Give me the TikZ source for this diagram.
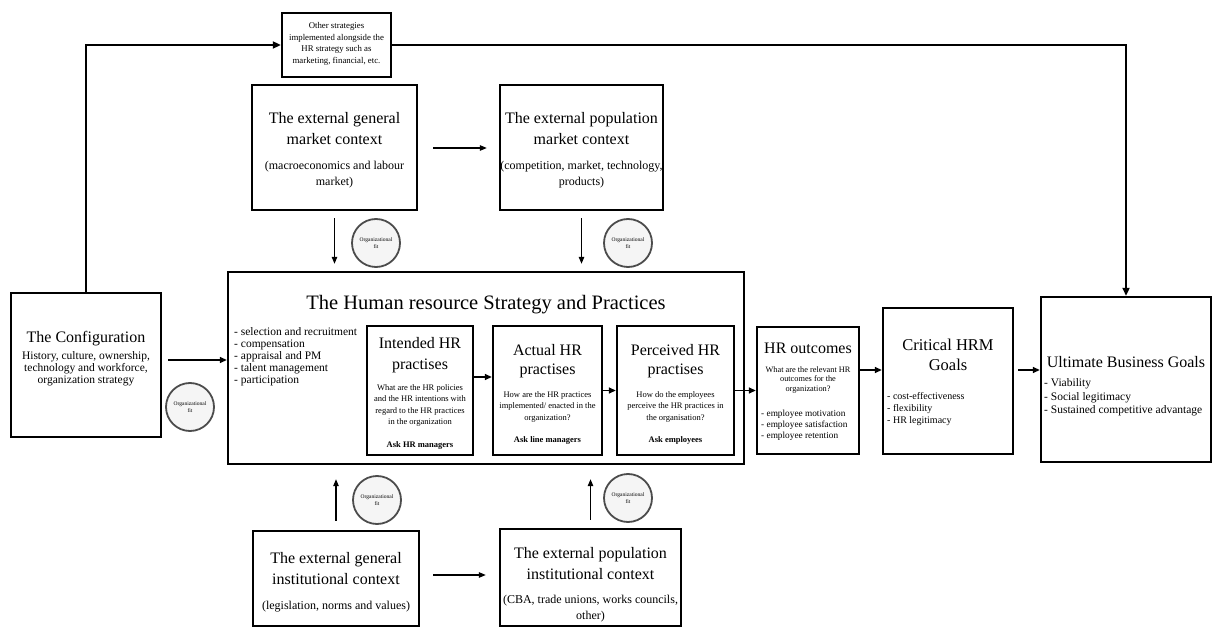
\documentclass[tikz,border=0pt]{standalone}
\usepackage{fontspec}
\setmainfont{Liberation Serif}
\usetikzlibrary{arrows.meta}
\newcommand{\fsz}[2]{\fontsize{#1}{#2}\selectfont}

\begin{document}
\begin{tikzpicture}[x=1pt,y=-1pt,
  box/.style={draw, line width=2.4pt, rectangle, inner sep=0pt},
  txt/.style={inner sep=0pt, align=center},
  ltxt/.style={inner sep=0pt, align=left, anchor=west},
  fitc/.style={circle, draw=black!70, line width=1.8pt, fill=black!4,
    minimum size=48pt, inner sep=0pt, align=center, font=\fsz{5.5}{7}},
  link/.style={line width=2pt, -{Triangle[length=8pt,width=7pt]}},
  arr/.style={line width=1.5pt, -{Triangle[length=7pt,width=6pt]}},
  thinarr/.style={line width=1.2pt, -{Triangle[length=7pt,width=5.5pt]}},
]
\useasboundingbox (0,0) rectangle (1213,628);

% ---- boxes ----
\node[box, minimum width=109pt, minimum height=64pt]  (other)     at (336.5,45)  {};
\node[box, minimum width=165pt, minimum height=125pt] (genmkt)    at (334.5,147.5) {};
\node[box, minimum width=163pt, minimum height=125pt] (popmkt)    at (581.5,147.5) {};
\node[box, minimum width=150pt, minimum height=144pt] (config)    at (86,365)   {};
\node[box, minimum width=516pt, minimum height=192pt] (hr)        at (486,368)  {};
\node[box, minimum width=106pt, minimum height=129pt] (intended)  at (420,390.5) {};
\node[box, minimum width=109pt, minimum height=129pt] (actual)    at (547.5,390.5) {};
\node[box, minimum width=117pt, minimum height=129pt] (perceived) at (675.5,390.5) {};
\node[box, minimum width=102pt, minimum height=127pt] (outcomes)  at (808,390.5) {};
\node[box, minimum width=130pt, minimum height=146pt] (critical)  at (948,381)  {};
\node[box, minimum width=170pt, minimum height=165pt] (ultimate)  at (1126,379.5) {};
\node[box, minimum width=166pt, minimum height=95pt]  (geninst)   at (336,578.5) {};
\node[box, minimum width=181pt, minimum height=97pt]  (popinst)   at (590.5,577.5) {};

% ---- organisational fit circles ----
\node[fitc] (fit1) at (376,243) {Organizational\\fit};
\node[fitc] (fit2) at (628,243) {Organizational\\fit};
\node[fitc] (fit3) at (190,407) {Organizational\\fit};
\node[fitc] (fit4) at (377,500) {Organizational\\fit};
\node[fitc] (fit5) at (628,498) {Organizational\\fit};

% ---- texts ----
\node[txt, font=\fsz{8.8}{11.5}] (t-other) at (336.5,44)
  {Other strategies\\implemented alongside the\\HR strategy such as\\marketing, financial, etc.};

\node[txt, font=\fsz{16}{21}] (t-genmkt) at (334.5,128.5) {The external general\\market context};
\node[txt, font=\fsz{12}{15.5}] (s-genmkt) at (334.5,174.5) {(macroeconomics and labour\\market)};
\node[txt, font=\fsz{16}{21}] (t-popmkt) at (581.5,128.5) {The external population\\market context};
\node[txt, font=\fsz{12}{15.5}] (s-popmkt) at (581.5,174.5) {(competition, market, technology,\\products)};

\node[txt, font=\fsz{16}{20}] (t-config) at (86,339) {The Configuration};
\node[txt, font=\fsz{11.5}{12}] (s-config) at (86,369)
  {History, culture, ownership,\\technology and workforce,\\organization strategy};

\node[txt, font=\fsz{20.5}{24}] (t-hr) at (486,305) {The Human resource Strategy and Practices};
\node[ltxt, font=\fsz{11.5}{12}] (l-hr) at (234,356.5)
  {- selection and recruitment\\- compensation\\- appraisal and PM\\- talent management\\- participation};

\node[txt, font=\fsz{16}{20.5}] (t-int) at (420,355) {Intended HR\\practises};
\node[txt, font=\fsz{8.5}{11.5}] (s-int) at (420,405.5)
  {What are the HR policies\\and the HR intentions with\\regard to the HR practices\\in the organization};
\node[txt, font=\fsz{8.5}{10}\bfseries] (a-int) at (420,445) {Ask HR managers};

\node[txt, font=\fsz{16}{19.5}] (t-act) at (547.5,361) {Actual HR\\practises};
\node[txt, font=\fsz{8.5}{11.5}] (s-act) at (547.5,406.5)
  {How are the HR practices\\implemented/ enacted in the\\organization?};
\node[txt, font=\fsz{8.5}{10}\bfseries] (a-act) at (547.5,440) {Ask line managers};

\node[txt, font=\fsz{16}{19.5}] (t-per) at (675.5,361) {Perceived HR\\practises};
\node[txt, font=\fsz{8.5}{11.5}] (s-per) at (675.5,406.5)
  {How do the employees\\perceive the HR practices in\\the organisation?};
\node[txt, font=\fsz{8.5}{10}\bfseries] (a-per) at (675.5,440) {Ask employees};

\node[txt, font=\fsz{16}{20}] (t-out) at (808,348) {HR outcomes};
\node[txt, font=\fsz{8.3}{9.2}] (s-out) at (808,380)
  {What are the relevant HR\\outcomes for the\\organization?};
\node[ltxt, font=\fsz{9.3}{11}] (l-out) at (761,425)
  {- employee motivation\\- employee satisfaction\\- employee retention};

\node[txt, font=\fsz{16.5}{20.5}] (t-crit) at (948,355) {Critical HRM\\Goals};
\node[ltxt, font=\fsz{10}{12}] (l-crit) at (887,409)
  {- cost-effectiveness\\- flexibility\\- HR legitimacy};

\node[txt, font=\fsz{16}{20}] (t-ult) at (1126,362) {Ultimate Business Goals};
\node[ltxt, font=\fsz{11.5}{13.5}] (l-ult) at (1044,397.5)
  {- Viability\\- Social legitimacy\\- Sustained competitive advantage};

\node[txt, font=\fsz{16}{21}] (t-geninst) at (336,568.5) {The external general\\institutional context};
\node[txt, font=\fsz{12}{15.5}] (s-geninst) at (336,607) {(legislation, norms and values)};
\node[txt, font=\fsz{16}{21}] (t-popinst) at (590.5,563.5) {The external population\\institutional context};
\node[txt, font=\fsz{12}{16}] (s-popinst) at (590.5,609) {(CBA, trade unions, works councils,\\other)};

% ---- connectors ----
\draw[link] (config.north) |- (other.west);
\draw[link] (other.east) -| (ultimate.north);
\draw[arr, shorten <=6pt] ([yshift=5pt]config.east) -- ([yshift=5pt]config.east -| hr.west);

\draw[thinarr, shorten <=15pt, shorten >=12pt] (genmkt.east |- 0,148) -- (popmkt.west |- 0,148);
\draw[thinarr, shorten <=13pt, shorten >=13pt] (geninst.east |- 0,575) -- (popinst.west |- 0,575);

\draw[thinarr, shorten <=7pt, shorten >=7pt] (genmkt.south) -- (genmkt.south |- hr.north);
\draw[thinarr, shorten <=7pt, shorten >=7pt] (popmkt.south) -- (popmkt.south |- hr.north);
\draw[thinarr, shorten <=9pt, shorten >=14pt] (geninst.north) -- (geninst.north |- hr.south);
\draw[thinarr, shorten <=8pt, shorten >=14pt] (popinst.north) -- (popinst.north |- hr.south);

\draw[arr] ([yshift=13.5pt]intended.east) -- ([yshift=13.5pt]intended.east -| actual.west);
\draw[arr] (actual.east) -- (perceived.west);
\draw[arr] (perceived.east) -- (outcomes.west);
\draw[arr] ([yshift=20.5pt]outcomes.east) -- ([yshift=20.5pt]outcomes.east -| critical.west);
\draw[arr, shorten <=4pt] ([yshift=11pt]critical.east) -- ([yshift=11pt]critical.east -| ultimate.west);
\end{tikzpicture}
\end{document}
